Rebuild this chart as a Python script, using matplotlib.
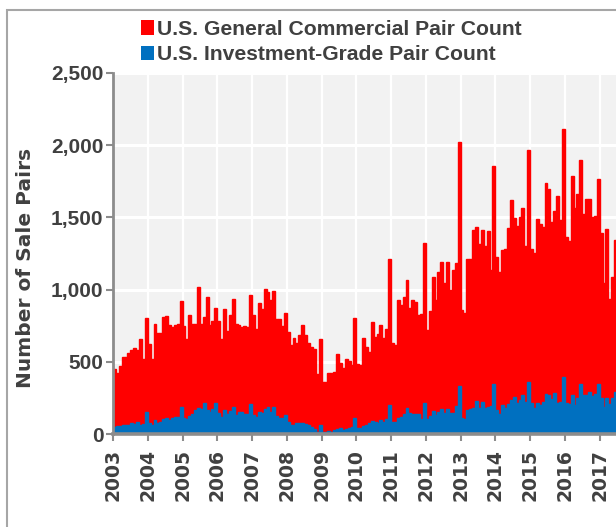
import matplotlib
matplotlib.use('Agg')
import matplotlib.pyplot as plt
from matplotlib.patches import Patch, Rectangle
import numpy as np

# ---------------- data (monthly, Jan 2003 - Jun 2017) ----------------
start_year = 2003
general_commercial = [
    # 2003
    447, 420, 470, 535, 530, 558, 585, 593, 581, 655, 517, 800,
    # 2004
    623, 517, 765, 701, 696, 807, 818, 754, 738, 754, 765, 918,
    # 2005
    749, 655, 822, 765, 765, 1019, 761, 811, 950, 753, 780, 876,
    # 2006
    780, 655, 869, 712, 822, 936, 765, 754, 742, 749, 742, 961,
    # 2007
    823, 724, 904, 869, 1003, 984, 927, 991, 793, 793, 747, 839,
    # 2008
    708, 615, 662, 632, 689, 754, 689, 627, 604, 590, 415, 657,
    # 2009
    362, 362, 420, 420, 431, 551, 489, 454, 517, 507, 475, 805,
    # 2010
    484, 477, 666, 600, 570, 775, 670, 690, 752, 662, 724, 1213,
    # 2011
    631, 616, 931, 892, 950, 1065, 876, 927, 915, 823, 834, 1323,
    # 2012
    720, 850, 1085, 930, 1120, 1190, 1045, 1190, 995, 1135, 1185, 2022,
    # 2013
    862, 841, 1215, 1215, 1411, 1434, 1314, 1416, 1302, 1406, 1134, 1853,
    # 2014
    1226, 1123, 1273, 1278, 1427, 1623, 1499, 1439, 1500, 1568, 1300, 1964,
    # 2015
    1279, 1250, 1492, 1452, 1434, 1741, 1699, 1468, 1542, 1648, 1485, 2114,
    # 2016
    1365, 1335, 1784, 1565, 1665, 1900, 1526, 1630, 1628, 1505, 1510, 1768,
    # 2017
    1392, 1047, 1422, 938, 1084, 1342,
]
investment_grade = [
    # 2003
    46, 55, 55, 62, 62, 62, 78, 69, 85, 62, 69, 154,
    # 2004
    74, 62, 97, 74, 85, 101, 108, 97, 108, 120, 120, 189,
    # 2005
    108, 104, 124, 138, 166, 177, 170, 212, 166, 155, 170, 215,
    # 2006
    145, 120, 168, 140, 160, 185, 130, 150, 150, 140, 140, 205,
    # 2007
    131, 120, 150, 143, 170, 189, 154, 184, 124, 108, 108, 131,
    # 2008
    85, 62, 62, 74, 74, 74, 69, 62, 51, 32, 16, 62,
    # 2009
    16, 16, 23, 16, 28, 32, 44, 28, 32, 39, 46, 108,
    # 2010
    39, 44, 55, 62, 74, 92, 85, 74, 97, 80, 101, 200,
    # 2011
    85, 81, 113, 120, 136, 177, 143, 138, 138, 138, 101, 212,
    # 2012
    104, 124, 159, 131, 154, 170, 148, 170, 143, 148, 194, 332,
    # 2013
    108, 101, 166, 171, 177, 228, 177, 224, 177, 189, 194, 346,
    # 2014
    166, 136, 200, 177, 207, 235, 254, 212, 235, 270, 224, 362,
    # 2015
    212, 177, 217, 200, 224, 274, 270, 240, 286, 217, 224, 392,
    # 2016
    212, 207, 270, 200, 247, 346, 270, 270, 290, 262, 280, 346,
    # 2017
    251, 189, 247, 207, 247, 293,
]
series_labels = ["U.S. General Commercial Pair Count",
                 "U.S. Investment-Grade Pair Count"]
x_tick_years = list(range(2003, 2018))
y_tick_values = [0, 500, 1000, 1500, 2000, 2500]
y_tick_labels = ["0", "500", "1,000", "1,500", "2,000", "2,500"]
y_axis_label = "Number of Sale Pairs"

# ---------------- styling ----------------
RED = "#ff0000"
BLUE = "#0070c0"
TXT = "#404040"
AXC = "#8c8c8c"
W, H = 616, 527

fig = plt.figure(figsize=(W / 100, H / 100), dpi=100)


def px_rect(x0, y0, x1, y1):
    return [x0 / W, 1 - y1 / H, (x1 - x0) / W, (y1 - y0) / H]


# outer frame of the chart (cropped at right/bottom)
fig.patches.append(Rectangle((7 / W, -0.2), 1.5, 1 - 10 / H + 0.2,
                             transform=fig.transFigure, fill=False,
                             edgecolor="#a6a6a6", linewidth=1.5))

x0_px, x1_px, ytop_px, ybot_px = 113, 640, 73, 434
year_px = 34.76
ax = fig.add_axes(px_rect(x0_px, ytop_px, x1_px, ybot_px))
ax.set_facecolor("#f2f2f2")

n = len(general_commercial)
t = start_year + np.arange(n) / 12.0
ax.bar(t, general_commercial, width=1 / 12, align="edge", color=RED,
       edgecolor=RED, linewidth=1.0, zorder=2)
ax.bar(t, investment_grade, width=1 / 12, align="edge", color=BLUE,
       edgecolor=BLUE, linewidth=1.0, zorder=2.1)

ax.set_xlim(start_year, start_year + (x1_px - x0_px) / year_px)
ax.set_ylim(0, 2500)

ax.set_axisbelow(True)
ax.yaxis.grid(True, color="white", linewidth=2.2)
ax.xaxis.grid(True, color="white", linewidth=1.6)

ax.set_yticks(y_tick_values)
ax.set_yticklabels(y_tick_labels, fontfamily="Liberation Sans",
                   fontweight="bold", fontsize=15, color=TXT)
ax.set_xticks(x_tick_years)
ax.set_xticklabels([str(y) for y in x_tick_years], rotation=90,
                   fontfamily="DejaVu Sans", fontweight="bold",
                   fontsize=13.5, color=TXT)

for s in ("top", "right"):
    ax.spines[s].set_visible(False)
ax.spines["left"].set_color(AXC)
ax.spines["left"].set_linewidth(2.0)
ax.spines["bottom"].set_color(AXC)
ax.spines["bottom"].set_linewidth(2.6)
ax.spines["bottom"].set_zorder(3)
ax.tick_params(axis="y", colors=AXC, length=5, width=1.5, pad=2,
               labelcolor=TXT)
ax.tick_params(axis="x", colors=AXC, length=5, width=1.5, pad=6,
               labelcolor=TXT)

fig.text(26 / W, 1 - 268 / H, y_axis_label, rotation=90, ha="center",
         va="center", fontfamily="DejaVu Sans", fontweight="bold",
         fontsize=14.5, color=TXT)

handles = [Patch(facecolor=RED, edgecolor="none", label=series_labels[0]),
           Patch(facecolor=BLUE, edgecolor="none", label=series_labels[1])]
leg = fig.legend(handles=handles, loc="upper left",
                 bbox_to_anchor=(141 / W, 1 - 20 / H), frameon=False,
                 prop={"family": "Liberation Sans", "weight": "bold",
                       "size": 15.2},
                 handlelength=0.62, handleheight=0.7, handletextpad=0.15,
                 labelspacing=0.3, borderpad=0, borderaxespad=0)
for txt in leg.get_texts():
    txt.set_color(TXT)

fig.savefig("out.png", dpi=100)
